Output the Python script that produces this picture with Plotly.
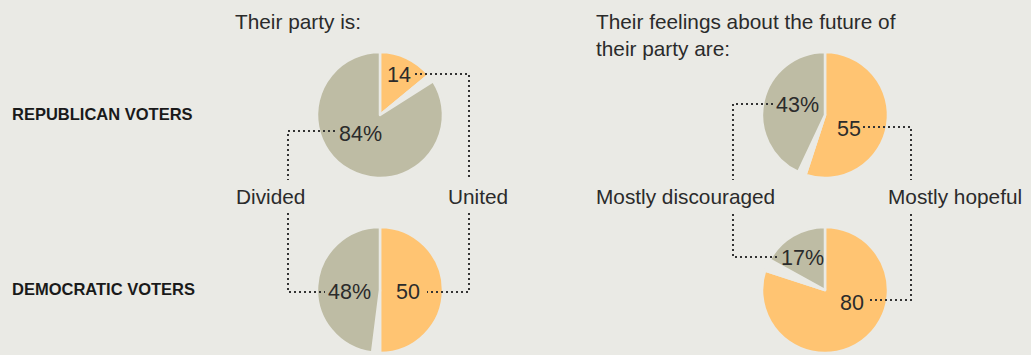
import plotly.graph_objects as go

W, H = 1031, 355
BG = "#EAEAE5"
ORANGE = "#FFC472"
GRAY = "#BEBCA4"
TXT = "#2b2b2b"
FONT = "Liberation Sans, Arial, sans-serif"
BOLD_FONT = "Liberation Sans, Arial, sans-serif"

# ---- data ----
rows = ["REPUBLICAN VOTERS", "DEMOCRATIC VOTERS"]
party_state = ["United", "Divided"]
party_united = [14, 50]
party_divided = [84, 48]
future_state = ["Mostly hopeful", "Mostly discouraged"]
future_hopeful = [55, 80]
future_discouraged = [43, 17]

def px(x):
    return x / W

def py(y):
    return 1 - y / H

fig = go.Figure()

# pie centres (pixels) and radius
centres = {
    ("party", 0): (380, 115), ("party", 1): (380, 290),
    ("future", 0): (825, 115), ("future", 1): (825, 290),
}
R = 63

def add_pie(a, b, cx, cy):
    rest = 100 - a - b
    fig.add_trace(go.Pie(
        values=[a, rest, b],
        labels=["a", "rest", "b"],
        sort=False, direction="clockwise", rotation=0,
        marker=dict(colors=[ORANGE, BG, GRAY], line=dict(color=BG, width=2.5)),
        textinfo="none", hoverinfo="skip", showlegend=False,
        domain=dict(x=[px(cx - R), px(cx + R)], y=[py(cy + R), py(cy - R)]),
    ))

for i in range(2):
    add_pie(party_united[i], party_divided[i], *centres[("party", i)])
    add_pie(future_hopeful[i], future_discouraged[i], *centres[("future", i)])

ann = []

def text(t, x, y, size=20.8, anchor="left", font=FONT, color=TXT):
    ann.append(dict(text=t, x=px(x), y=py(y), xref="paper", yref="paper",
                    xanchor=anchor, yanchor="middle", showarrow=False,
                    font=dict(family=font, size=size, color=color)))

# headers
text("Their party is:", 233, 21)
text("Their feelings about the future of", 594, 21)
text("their party are:", 594, 48)
text("<b>" + rows[0] + "</b>", 10, 114, size=16.5, font=BOLD_FONT, color="#1a1a1a")
text("<b>" + rows[1] + "</b>", 10, 289, size=16.5, font=BOLD_FONT, color="#1a1a1a")

# category labels
text(party_state[1], 234, 196)
text(party_state[0], 510, 196, anchor="right")
text(future_state[1], 594, 196)
text(future_state[0], 1024, 196, anchor="right")

# slice value labels
vs = 21.5
text(f"{party_united[0]}", 399, 75, size=vs, anchor="center")
text(f"{party_divided[0]}%", 360, 134, size=vs, anchor="center")
text(f"{party_united[1]}", 408, 292, size=vs, anchor="center")
text(f"{party_divided[1]}%", 349, 292, size=vs, anchor="center")
text(f"{future_discouraged[0]}%", 797, 105, size=vs, anchor="center")
text(f"{future_hopeful[0]}", 849, 129, size=vs, anchor="center")
text(f"{future_discouraged[1]}%", 802, 258, size=vs, anchor="center")
text(f"{future_hopeful[1]}", 852, 303, size=vs, anchor="center")

# dotted leader lines
paths = [
    [(335, 131), (288, 131), (288, 180)],
    [(288, 213), (288, 292), (325, 292)],
    [(415, 74), (469, 74), (469, 180)],
    [(469, 213), (469, 292), (427, 292)],
    [(773, 104), (733, 104), (733, 180)],
    [(733, 214), (733, 257), (780, 257)],
    [(863, 127), (911, 127), (911, 180)],
    [(911, 214), (911, 300), (870, 300)],
]
shapes = []
for p in paths:
    d = "M " + " L ".join(f"{px(x)},{py(y)}" for x, y in p)
    shapes.append(dict(type="path", path=d, xref="paper", yref="paper",
                       line=dict(color="#333333", width=2, dash="2px,3px")))

fig.update_layout(
    width=W, height=H,
    margin=dict(l=0, r=0, t=0, b=0),
    paper_bgcolor=BG, plot_bgcolor=BG,
    annotations=ann, shapes=shapes,
    showlegend=False,
)

fig.write_html(
    "out.html",
    config={"displayModeBar": False},
    post_script="document.body.style.margin='0';document.body.style.background='" + BG + "';",
)
